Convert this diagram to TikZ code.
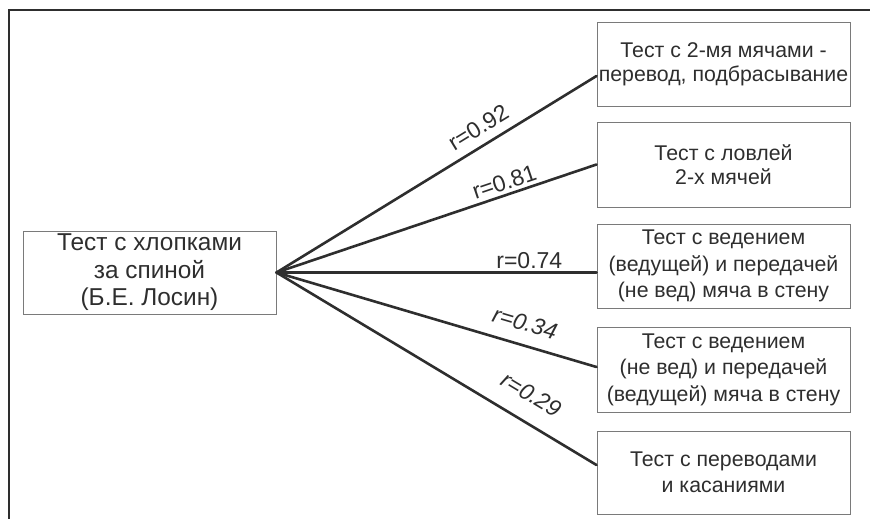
\documentclass[tikz,border=0pt]{standalone}
\usepackage{fontspec}
\setmainfont{Liberation Sans}
\usetikzlibrary{calc}
\definecolor{ink}{HTML}{2E2E2E}
\definecolor{boxline}{HTML}{7A7A7A}
\begin{document}
\begin{tikzpicture}[x=1pt,y=-1pt,
  testbox/.style={draw=boxline, line width=1pt, minimum width=253pt, inner sep=0pt, align=center, text=ink, font=\fontsize{21.3}{26.5}\selectfont},
  link/.style={draw=ink, line width=2.6pt, line cap=round},
  rlab/.style={sloped, inner sep=0pt, text=ink, font=\fontsize{23}{25}\selectfont},
  frameline/.style={draw=ink, line width=1.8pt}]
\useasboundingbox (0,0) rectangle (873,519);
\draw[frameline] (9,519) -- (9,10) -- (870,10);

\node[testbox, minimum height=83pt, font=\fontsize{24.4}{27.5}\selectfont] (src) at (149.5,272.5) {Тест с хлопками\\за спиной\\(Б.Е. Лосин)};
\node[testbox, minimum height=83pt, font=\fontsize{21.3}{24}\selectfont] (b1) at (723.5,64.5) {Тест с 2-мя мячами -\\перевод, подбрасывание};
\node[testbox, minimum height=85pt, font=\fontsize{21.3}{24}\selectfont] (b2) at (723.5,164.5) {Тест с ловлей\\2-х мячей};
\node[testbox, minimum height=84pt] (b3) at (723.5,266) {Тест с ведением\\(ведущей) и передачей\\(не вед) мяча в стену};
\node[testbox, minimum height=85pt] (b4) at (723.5,369.5) {Тест с ведением\\(не вед) и передачей\\(ведущей) мяча в стену};
\node[testbox, minimum height=83pt] (b5) at (723.5,472.5) {Тест с переводами\\и касаниями};

\coordinate (e1) at ($(b1.west)+(0,11.5)$);
\coordinate (e2) at (b2.west);
\coordinate (e3) at (b3.west |- src.east);
\coordinate (e4) at ($(b4.west)+(0,-2.5)$);
\coordinate (e5) at ($(b5.west)+(0,-7.5)$);

\draw[link] (src.east) -- node[rlab, pos=0.66, above=8.5pt] (l1) {r=0.92} (e1);
\draw[link] (src.east) -- node[rlab, pos=0.725, above=3.5pt] (l2) {r=0.81} (e2);
\draw[link] (src.east) -- node[rlab, pos=0.79, above=2pt] (l3) {r=0.74} (e3);
\draw[link] (src.east) -- node[rlab, pos=0.757, above=12.5pt, font=\fontsize{23}{25}\selectfont\itshape] (l4) {r=0.34} (e4);
\draw[link] (src.east) -- node[rlab, pos=0.753, above=17.5pt, font=\fontsize{23}{25}\selectfont\itshape] (l5) {r=0.29} (e5);
\end{tikzpicture}
\end{document}
